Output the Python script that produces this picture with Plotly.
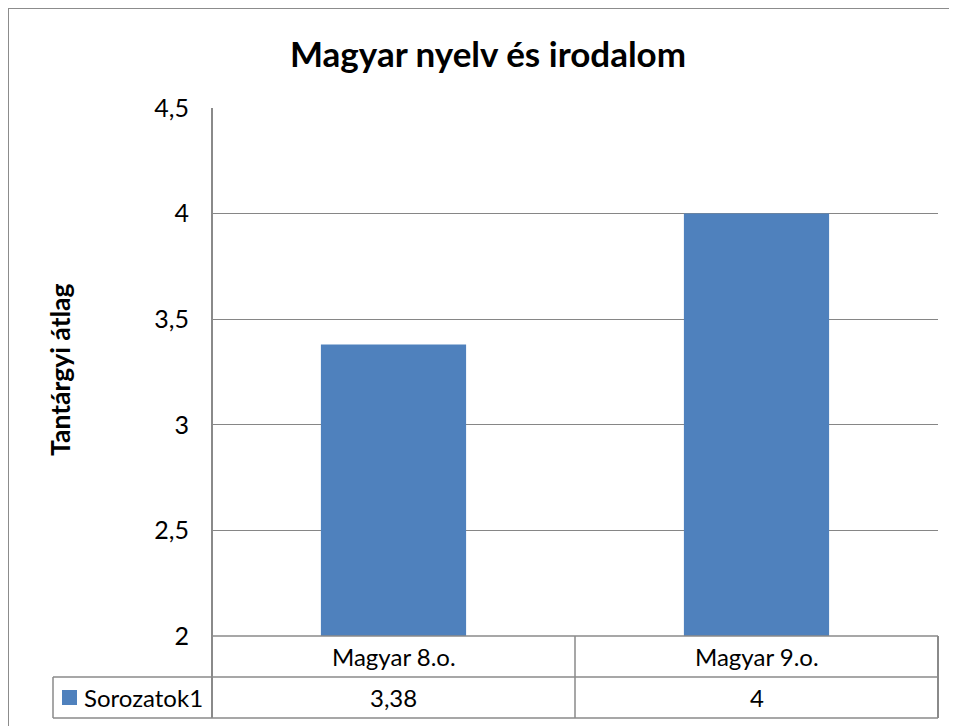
import plotly.graph_objects as go

# ---- data ----
title_text = "Magyar nyelv és irodalom"
y_title = "Tantárgyi átlag"
series_name = "Sorozatok1"
categories = ["Magyar 8.o.", "Magyar 9.o."]
values = [3.38, 4.0]
y_ticks = [2, 2.5, 3, 3.5, 4, 4.5]

# ---- geometry (screen pixels; page body has an 8px margin) ----
OFF = 8
W, H = 957 - OFF, 726 - OFF
L, R, T, B = 212 - OFF, 938 - OFF, 108 - OFF, 636 - OFF
PW, PH = R - L, B - T

def px(x):
    return (x - OFF - L) / PW

def py(y):
    return (B - (y - OFF)) / PH

BLUE = "#4F81BD"
GRID = "#868686"
LINE = "#8a8a8a"
FONT = "Lato, Calibri, sans-serif"

fig = go.Figure()
fig.add_trace(go.Bar(x=categories, y=values, name=series_name,
                     marker=dict(color=BLUE, line=dict(width=0)),
                     showlegend=False, hoverinfo="x+y"))

shapes = []
def seg(x0, y0, x1, y1, color=LINE, width=1.5):
    shapes.append(dict(type="line", xref="paper", yref="paper",
                       x0=px(x0), y0=py(y0), x1=px(x1), y1=py(y1),
                       line=dict(color=color, width=width)))

# outer chart border (top and left edges visible in the window)
seg(8, 8, 960, 8, color="#8c8c8c", width=2)
seg(8, 8, 8, 730, color="#8c8c8c", width=2)
# axis line and data table
seg(212, 108, 212, 718, width=2)
seg(212, 636, 938, 636)
seg(53, 677, 938, 677)
seg(53, 718, 938, 718)
seg(53, 677, 53, 718)
seg(575, 636, 575, 718)
seg(938, 636, 938, 718, width=2)
# legend key square
shapes.append(dict(type="rect", xref="paper", yref="paper",
                   x0=px(62), x1=px(77), y0=py(705), y1=py(690),
                   fillcolor=BLUE, line=dict(width=0)))

annotations = []
for c, v in zip(categories, values):
    annotations.append(dict(x=c, xref="x", y=py(656.5), yref="paper",
                            xanchor="center", yanchor="middle",
                            text=c, showarrow=False,
                            font=dict(family=FONT, size=24, color="#000")))
    annotations.append(dict(x=c, xref="x", y=py(697.5), yref="paper",
                            xanchor="center", yanchor="middle",
                            text=f"{v:g}".replace(".", ","), showarrow=False,
                            font=dict(family=FONT, size=24, color="#000")))
annotations.append(dict(x=px(82), xref="paper", y=py(697.5), yref="paper",
                        xanchor="left", yanchor="middle",
                        text=series_name, showarrow=False,
                        font=dict(family=FONT, size=24, color="#000")))
annotations.append(dict(x=px(60), xref="paper", y=py(370), yref="paper",
                        xanchor="center", yanchor="middle",
                        text=f"<b>{y_title}</b>", textangle=-90, showarrow=False,
                        font=dict(family=FONT, size=26.5, color="#000")))

fig.update_layout(
    width=W, height=H,
    margin=dict(l=L, r=W - R, t=T, b=H - B),
    paper_bgcolor="white", plot_bgcolor="white",
    separators=", ",
    bargap=0.6,
    title=dict(text=f"<b>{title_text}</b>", x=(488 - OFF) / W, xanchor="center",
               y=1 - (55 - OFF) / H, yanchor="middle",
               font=dict(family=FONT, size=35, color="#000")),
    xaxis=dict(showticklabels=False, showgrid=False, zeroline=False,
               showline=False, ticks=""),
    yaxis=dict(range=[2, 4.5], tickvals=y_ticks, showgrid=True,
               gridcolor=GRID, gridwidth=1, zeroline=False, showline=False,
               ticks="outside", ticklen=17, tickcolor="rgba(0,0,0,0)",
               tickfont=dict(family=FONT, size=25, color="#000")),
    shapes=shapes,
    annotations=annotations,
)

fig.write_html("out.html",
               post_script="document.documentElement.style.overflow='hidden';")
